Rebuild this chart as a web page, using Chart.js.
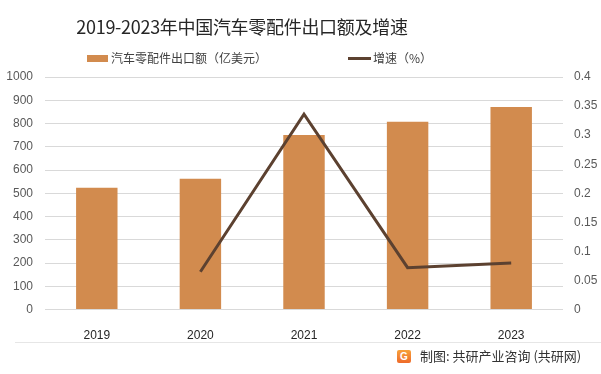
<!DOCTYPE html>
<html>
<head>
<meta charset="utf-8">
<script src="https://cdn.jsdelivr.net/npm/chart.js@4"></script>
<style>
  body { margin: 0; background: #fff; }
  #wrap { position: relative; width: 601px; height: 374px; overflow: hidden; font-family: "Noto Sans CJK SC", "Noto Sans", sans-serif; }
  #chart { position: absolute; left: 0; top: 0; }
  .txt { position: absolute; white-space: nowrap; }
  #title { left: 0; width: 484px; top: 12px; text-align: center; font-size: 18px; color: #262626; line-height: 28px; letter-spacing: -0.3px; }
  .sw-bar { position: absolute; left: 87px; top: 55px; width: 21px; height: 7px; background: #D28B4E; }
  .sw-line { position: absolute; left: 348px; top: 57px; width: 23px; height: 3px; background: #5C4130; }
  .leg { top: 49px; font-size: 12px; color: #404040; line-height: 18px; }
  #sep { position: absolute; left: 15px; right: 0; top: 342px; height: 1px; background: #E6E6E6; }
  #logo { position: absolute; left: 397px; top: 350px; width: 14px; height: 13px; border-radius: 2px;
          background: linear-gradient(180deg, #F7A13A, #EE6A2A); color: #fff; font: bold 10px "Liberation Sans", sans-serif;
          text-align: center; line-height: 13px; }
  #footer { left: 420px; top: 347px; font-size: 13px; color: #333; line-height: 18px; }
</style>
</head>
<body>
<div id="wrap">
  <canvas id="chart" width="601" height="374"></canvas>
  <div id="title" class="txt">2019-2023年中国汽车零配件出口额及增速</div>
  <div class="sw-bar"></div>
  <div class="txt leg" style="left:111px">汽车零配件出口额（亿美元）</div>
  <div class="sw-line"></div>
  <div class="txt leg" style="left:373px">增速（%）</div>
  <div id="sep"></div>
  <div id="logo">G</div>
  <div id="footer" class="txt">制图: 共研产业咨询 (共研网)</div>
</div>
<script>
// 数据
const years = ['2019', '2020', '2021', '2022', '2023'];
const exportValue = [524, 562, 751, 807, 871];      // 亿美元
const growthRate = [null, 0.065, 0.336, 0.072, 0.080];
const leftTicks = [0, 100, 200, 300, 400, 500, 600, 700, 800, 900, 1000];
const rightTicks = [0, 0.05, 0.1, 0.15, 0.2, 0.25, 0.3, 0.35, 0.4];

const tickFont = { family: 'Liberation Sans', size: 12 };

new Chart(document.getElementById('chart').getContext('2d'), {
    data: {
        labels: years,
        datasets: [
            {
                type: 'line',
                label: '增速（%）',
                data: growthRate,
                yAxisID: 'y1',
                borderColor: '#5C4130',
                borderWidth: 3,
                pointRadius: 0,
                tension: 0,
                order: 0
            },
            {
                type: 'bar',
                label: '汽车零配件出口额（亿美元）',
                data: exportValue,
                yAxisID: 'y',
                backgroundColor: '#D28B4E',
                barPercentage: 0.4,
                categoryPercentage: 1,
                order: 1
            }
        ]
    },
    options: {
        responsive: false,
        animation: false,
        layout: { padding: { top: 77, left: 0, right: 0, bottom: 0 } },
        plugins: {
            legend: { display: false },
            title: { display: false },
            tooltip: { enabled: false }
        },
        scales: {
            x: {
                grid: { display: false },
                border: { display: false },
                ticks: { color: '#262626', font: tickFont, padding: 11 },
                afterFit: function(s) { s.height = 64.5; }
            },
            y: {
                position: 'left',
                min: 0,
                max: 1000,
                afterBuildTicks: function(s) { s.ticks = leftTicks.map(v => ({ value: v })); },
                grid: { color: '#D9D9D9', lineWidth: 1, drawTicks: false },
                border: { display: false },
                ticks: { color: '#595959', font: tickFont, padding: 12, callback: v => String(v) },
                afterFit: function(s) { s.width = 45; }
            },
            y1: {
                position: 'right',
                min: 0,
                max: 0.4,
                afterBuildTicks: function(s) { s.ticks = rightTicks.map(v => ({ value: v })); },
                grid: { display: false, drawTicks: false },
                border: { display: false },
                ticks: { color: '#595959', font: tickFont, padding: 11, callback: v => String(+v.toFixed(2)) },
                afterFit: function(s) { s.width = 38; }
            }
        }
    }
});
</script>
</body>
</html>
